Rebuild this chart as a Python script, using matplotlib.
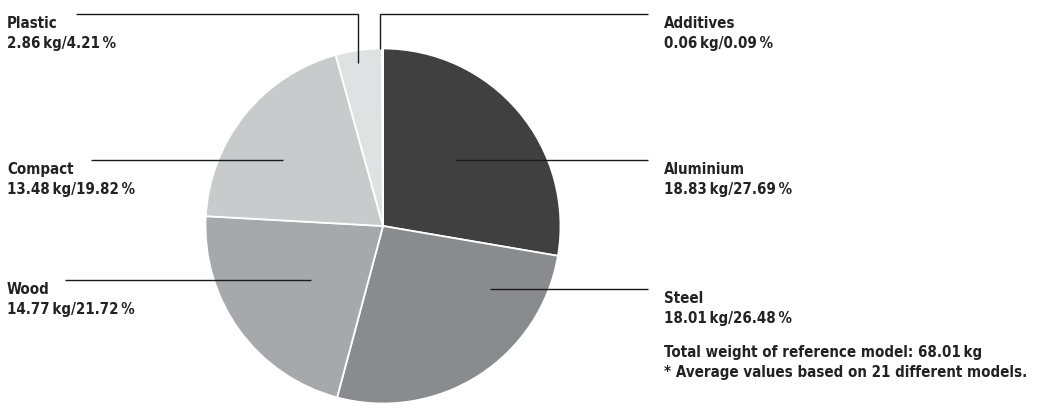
import matplotlib
matplotlib.use("Agg")
import matplotlib.pyplot as plt

# data
materials = ["Aluminium", "Steel", "Wood", "Compact", "Plastic", "Additives"]
weights_kg = [18.83, 18.01, 14.77, 13.48, 2.86, 0.06]
shares_pct = [27.69, 26.48, 21.72, 19.82, 4.21, 0.09]
slice_colors = ["#404040", "#8a8b8e", "#a7a8ab", "#c9cacc", "#e0e1e3", "#8c8c8c"]
total_note = "Total weight of reference model: 68.01\u2009kg"
avg_note = "* Average values based on 21 different models."

W, H = 1037, 405
plt.rcParams["font.family"] = ["DejaVu Sans"]
TXT = "#222222"
FONT = dict(fontsize=10.8, fontweight="bold", fontstretch="condensed",
            color=TXT, va="baseline", ha="left")

fig = plt.figure(figsize=(W / 100, H / 100), dpi=100)
ax = fig.add_axes([0, 0, 1, 1])
ax.axis("off")


def Y(y):
    # top-down pixel rows -> axis coords
    return H - y


ax.pie(shares_pct, colors=slice_colors, startangle=90, counterclock=False,
       center=(383, Y(226)), radius=177.5,
       wedgeprops=dict(edgecolor="white", linewidth=1.3))
ax.set_xlim(0, W)
ax.set_ylim(0, H)
ax.set_aspect("equal")

# leader lines: (xs, ys) in pixel rows, one per material
leaders = {
    "Aluminium": ([455, 648], [160, 160]),
    "Steel": ([490, 648], [289, 289]),
    "Wood": ([65, 311], [280, 280]),
    "Compact": ([91, 283], [160, 160]),
    "Plastic": ([76, 358, 358], [14, 14, 63]),
    "Additives": ([380, 380, 648], [49, 14, 14]),
}
# label anchor (left x, leader row)
label_pos = {
    "Aluminium": (664, 160),
    "Steel": (664, 289),
    "Wood": (7, 280),
    "Compact": (7, 160),
    "Plastic": (7, 14),
    "Additives": (664, 14),
}

for name, kg, pct in zip(materials, weights_kg, shares_pct):
    xs, ys = leaders[name]
    ax.plot(xs, [Y(v) for v in ys], color="#1a1a1a", lw=1.0,
            solid_capstyle="butt", solid_joinstyle="miter")
    lx, ly = label_pos[name]
    ax.text(lx, Y(ly + 14), name, **FONT)
    ax.text(lx, Y(ly + 34), f"{kg:.2f}\u2009kg/{pct:.2f}\u2009%", **FONT)

ax.text(664, Y(357), total_note, **FONT)
ax.text(664, Y(377), avg_note, **FONT)

fig.savefig("out.png", dpi=100)
